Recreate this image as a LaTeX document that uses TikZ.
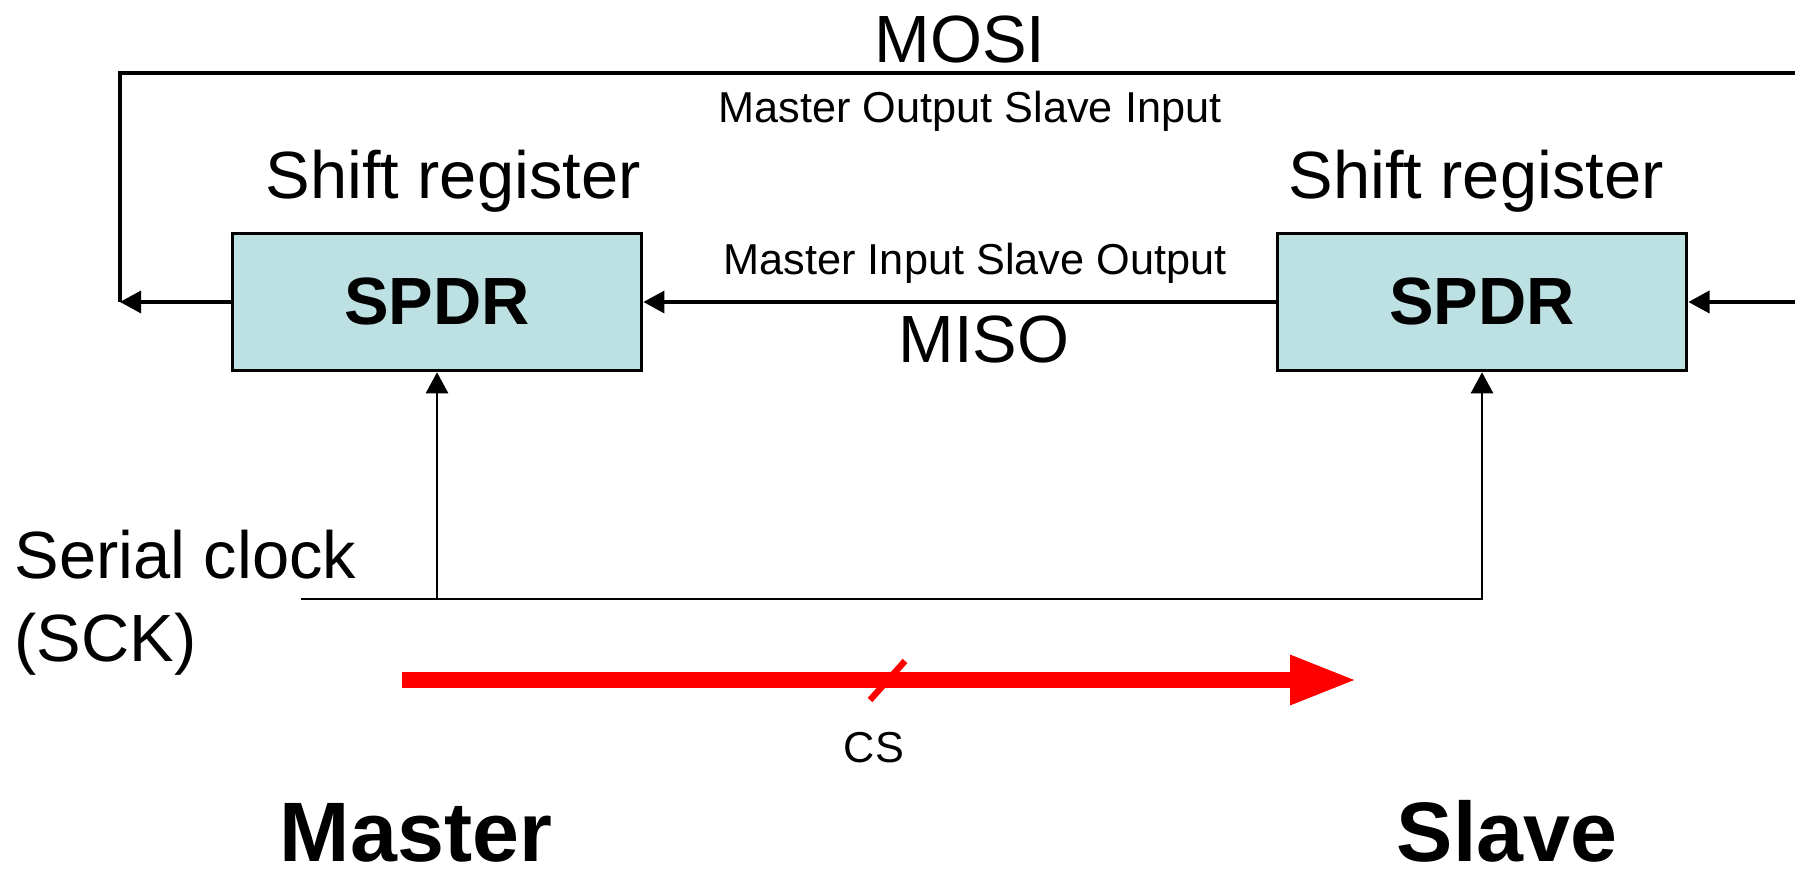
\documentclass[tikz,border=0pt]{standalone}
\usepackage{fontspec}
\setmainfont{Liberation Sans}
\usepackage{xcolor}
\usetikzlibrary{arrows.meta}
\definecolor{regfill}{RGB}{189,224,226}

\begin{document}
\begin{tikzpicture}[x=0.01cm,y=-0.01cm,
	reg/.style={draw,line width=1pt,fill=regfill,minimum width=4.09cm,minimum height=1.37cm,font=\fontsize{19}{23}\selectfont\bfseries},
	lbl/.style={inner sep=0pt,anchor=base,font=\fontsize{19}{23}\selectfont},
	small/.style={inner sep=0pt,anchor=base,font=\fontsize{12.3}{14}\selectfont},
	big/.style={inner sep=0pt,anchor=base,font=\fontsize{24}{28}\selectfont\bfseries},
	>={Triangle[length=6pt,width=6.3pt]}]
			\useasboundingbox (0,0) rectangle (1795,877);
			% Thanh ghi dich
			\node [reg] (mspdr) at (437,302) {SPDR};
			\node [reg] (sspdr) at (1482,302) {SPDR};
			\node [lbl] (mshift) at (453,199) {Shift register};
			\node [lbl] (sshift) at (1476,199) {Shift register};
			% MOSI
			\coordinate (mosiL) at (120,302);
			\coordinate (mosiR) at (1795,73);
			\draw [line width=1.2pt] (mosiR) -| (mosiL);
			\draw [line width=0.9pt,->] (mspdr.west) -- (mosiL);
			\node [lbl] (mosi) at (960,63) {MOSI};
			\node [small] (mositxt) at (970,123) {Master Output Slave Input};
			% MISO
			\coordinate (inR) at (1795,302);
			\draw [line width=0.9pt,->] (sspdr.west) -- (mspdr.east);
			\draw [line width=0.9pt,->] (inR) -- (sspdr.east);
			\node [small] (misotxt) at (975,275) {Master Input Slave Output};
			\node [lbl] (miso) at (984,363) {MISO};
			% SCK
			\coordinate (sckL) at (301,599);
			\coordinate (sckM) at (437,599);
			\draw [line width=0.7pt,->] (sckL) -| (sspdr.south);
			\draw [line width=0.7pt,->] (sckM) -- (mspdr.south);
			\node [lbl,anchor=base west] (sck1) at (14,579) {Serial clock};
			\node [lbl,anchor=base west] (sck2) at (14,662) {(SCK)};
			% CS
			\coordinate (csL) at (402,680);
			\coordinate (csR) at (1357,680);
			\draw [red,line width=4.3pt,-{Triangle[length=19pt,width=13pt]}] (csL) -- (csR);
			\draw [red,line width=1.8pt] (870,700) -- (905,661);
			\node [small] (cs) at (874,762) {CS};
			\node [big] (master) at (416,861) {Master};
			\node [big] (slave) at (1507,861) {Slave};
		\end{tikzpicture}
\end{document}
